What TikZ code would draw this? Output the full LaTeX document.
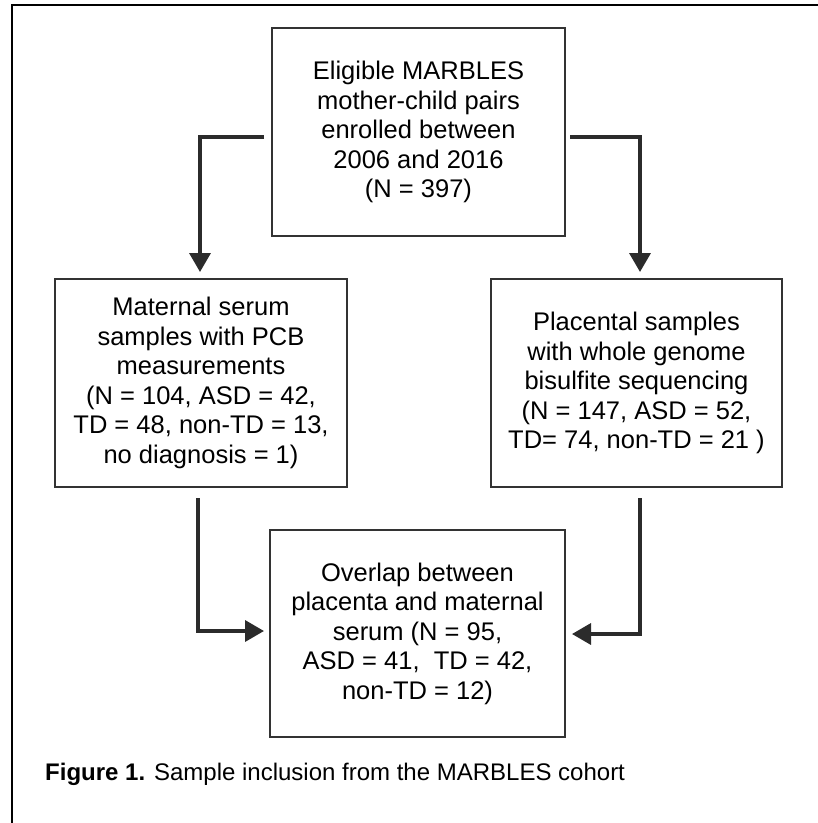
\documentclass[tikz,border=0pt]{standalone}
\usepackage{fontspec}
\setmainfont{Liberation Sans}
\usetikzlibrary{arrows.meta,calc}
\definecolor{boxline}{HTML}{333333}
\definecolor{arrowcol}{HTML}{2B2B2B}
\tikzset{
  flowbox/.style={draw=boxline, line width=2pt, rectangle, inner sep=0pt,
    align=center, font=\fontsize{25.5}{29.5}\selectfont, text=black},
  flowarrow/.style={draw=arrowcol, line width=3.5pt,
    -{Triangle[length=19pt,width=21pt]}, line join=miter}
}
\begin{document}
\begin{tikzpicture}[x=1pt,y=-1pt]
\useasboundingbox (0,0) rectangle (818,823);
\clip (0,0) rectangle (818,823);
\fill[white] (0,0) rectangle (818,823);
\draw[black, line width=2pt] (12,5) rectangle (840,850);

\node[flowbox, minimum width=293pt, minimum height=208pt] (top) at (418.5,132)
  {Eligible MARBLES\\mother-child pairs\\enrolled between\\2006 and 2016\\(N = 397)};
\node[flowbox, minimum width=292pt, minimum height=208pt] (left) at (201,383)
  {Maternal serum\\samples with PCB\\measurements\\(N = 104, ASD = 42,\\TD = 48, non-TD = 13,\\no diagnosis = 1)};
\node[flowbox, minimum width=291pt, minimum height=208pt] (right) at (636.5,383)
  {Placental samples\\with whole genome\\bisulfite sequencing\\(N = 147, ASD = 52,\\TD= 74, non-TD = 21 )};
\node[flowbox, minimum width=295pt, minimum height=207pt] (bottom) at (417.5,633.5)
  {Overlap between\\placenta and maternal\\serum (N = 95,\\ASD = 41,\ \ TD = 42,\\non-TD = 12)};

\coordinate (tl) at ($(top.west)+(-7,5)$);
\coordinate (tr) at ($(top.east)+(4,5)$);
\coordinate (lb) at ($(left.south)+(-3,10)$);
\coordinate (rb) at ($(right.south)+(3.5,10)$);

\draw[flowarrow] (tl) -| ($(left.north)+(-1,-6)$);
\draw[flowarrow] (tr) -| ($(right.north)+(3.5,-6)$);
\draw[flowarrow] (lb) |- ($(bottom.west)+(-5,-2.5)$);
\draw[flowarrow] (rb) |- ($(bottom.east)+(6,0.5)$);

\node[anchor=base west, inner sep=0pt, font=\fontsize{24}{28}\selectfont] (cap) at (45,780)
  {\textbf{Figure 1.} Sample inclusion from the MARBLES cohort};
\end{tikzpicture}
\end{document}
